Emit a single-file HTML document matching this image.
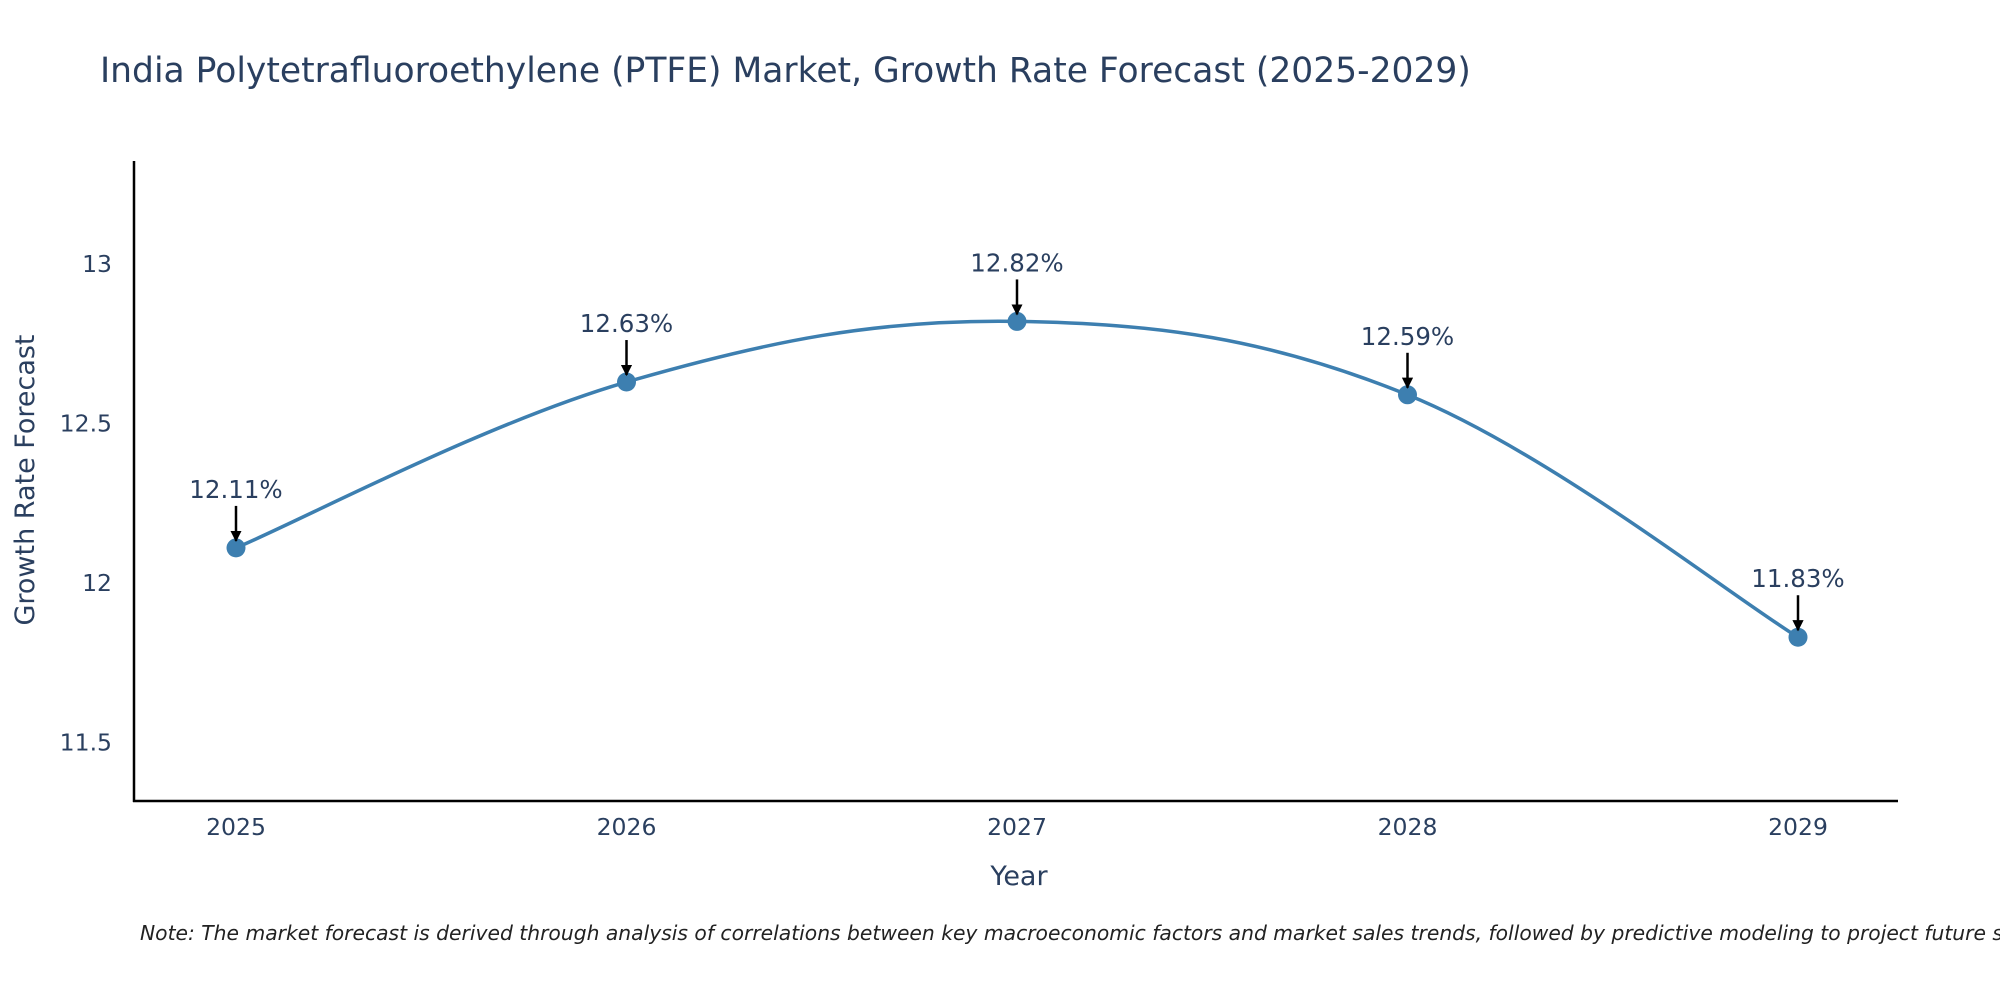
<!DOCTYPE html>
<html><head><meta charset="utf-8"><style>
body{margin:0;background:#fff;}
svg text{font-family:"DejaVu Sans","Liberation Sans",sans-serif;}
</style></head><body>
<svg id="chart" width="2000" height="1000" xmlns="http://www.w3.org/2000/svg">
<defs><marker id="arrow" viewBox="0 0 10 10" refX="9" refY="5" markerWidth="4.5" markerHeight="4.5" orient="auto"><path d="M0,0 L10,5 L0,10 z" fill="#000"/></marker></defs>
<text x="100" y="82" font-size="34.5" fill="#2a3f5f">India Polytetrafluoroethylene (PTFE) Market, Growth Rate Forecast (2025-2029)</text>
<g id="yticks"></g><g id="xticks"></g>
<line x1="134" y1="161" x2="134" y2="802" stroke="#000" stroke-width="2.5"/>
<line x1="133" y1="801" x2="1898" y2="801" stroke="#000" stroke-width="2.5"/>
<text transform="translate(34,480) rotate(-90)" text-anchor="middle" font-size="27" fill="#2a3f5f">Growth Rate Forecast</text>
<text x="1019" y="885" text-anchor="middle" font-size="27" fill="#2a3f5f">Year</text>
<g id="series"></g>
<text x="140" y="940" font-size="20.3" font-style="italic" fill="#222">Note: The market forecast is derived through analysis of correlations between key macroeconomic factors and market sales trends, followed by predictive modeling to project future sales.</text>
</svg>
<script>
const years = [2025, 2026, 2027, 2028, 2029];
const growthRates = [12.11, 12.63, 12.82, 12.59, 11.83];
const yTickValues = [11.5, 12, 12.5, 13];
const yTickLabels = ["11.5", "12", "12.5", "13"];

const NS = "http://www.w3.org/2000/svg";
function xScale(yr){ return 236 + (yr - 2025) * 390.5; }
function yScale(v){ return 583 - (v - 12) * 319; }
function mk(tag, attrs, parent){ const e=document.createElementNS(NS,tag); for(const k in attrs) e.setAttribute(k,attrs[k]); parent.appendChild(e); return e; }

const yt=document.getElementById('yticks');
yTickValues.forEach((v,i)=>{
  const t=mk('text',{x:112,y:yScale(v)+8,'text-anchor':'end','font-size':23.5,fill:'#2a3f5f'},yt);
  t.textContent=yTickLabels[i];
  
  
});
const xt=document.getElementById('xticks');
years.forEach(yr=>{
  const t=mk('text',{x:xScale(yr),y:835,'text-anchor':'middle','font-size':23.5,fill:'#2a3f5f'},xt);
  t.textContent=String(yr);
  
  
});

const pts=years.map((yr,i)=>[xScale(yr),yScale(growthRates[i])]);
let d=`M${pts[0][0]},${pts[0][1]}`;
const s=0.18;
for(let i=0;i<pts.length-1;i++){
  const p0=pts[Math.max(i-1,0)],p1=pts[i],p2=pts[i+1],p3=pts[Math.min(i+2,pts.length-1)];
  const c1=[p1[0]+(p2[0]-p0[0])*s,p1[1]+(p2[1]-p0[1])*s];
  const c2=[p2[0]-(p3[0]-p1[0])*s,p2[1]-(p3[1]-p1[1])*s];
  d+=` C${c1[0]},${c1[1]} ${c2[0]},${c2[1]} ${p2[0]},${p2[1]}`;
}
const g=document.getElementById('series');
const line=mk('path',{d:d,fill:'none',stroke:'#3d7fb0','stroke-width':3.5},g);


pts.forEach((p,i)=>{
  const c=mk('circle',{cx:p[0],cy:p[1],r:9.5,fill:'#3d7fb0'},g);
  
  
  const a=mk('line',{x1:p[0],y1:p[1]-42,x2:p[0],y2:p[1]-7,stroke:'#000','stroke-width':2.5,'marker-end':'url(#arrow)'},g);
  
  
  const t=mk('text',{x:p[0],y:p[1]-50,'text-anchor':'middle','font-size':24.5,fill:'#2a3f5f'},g);
  t.textContent=growthRates[i].toFixed(2)+'%';
  
  
});
</script>
</body></html>
